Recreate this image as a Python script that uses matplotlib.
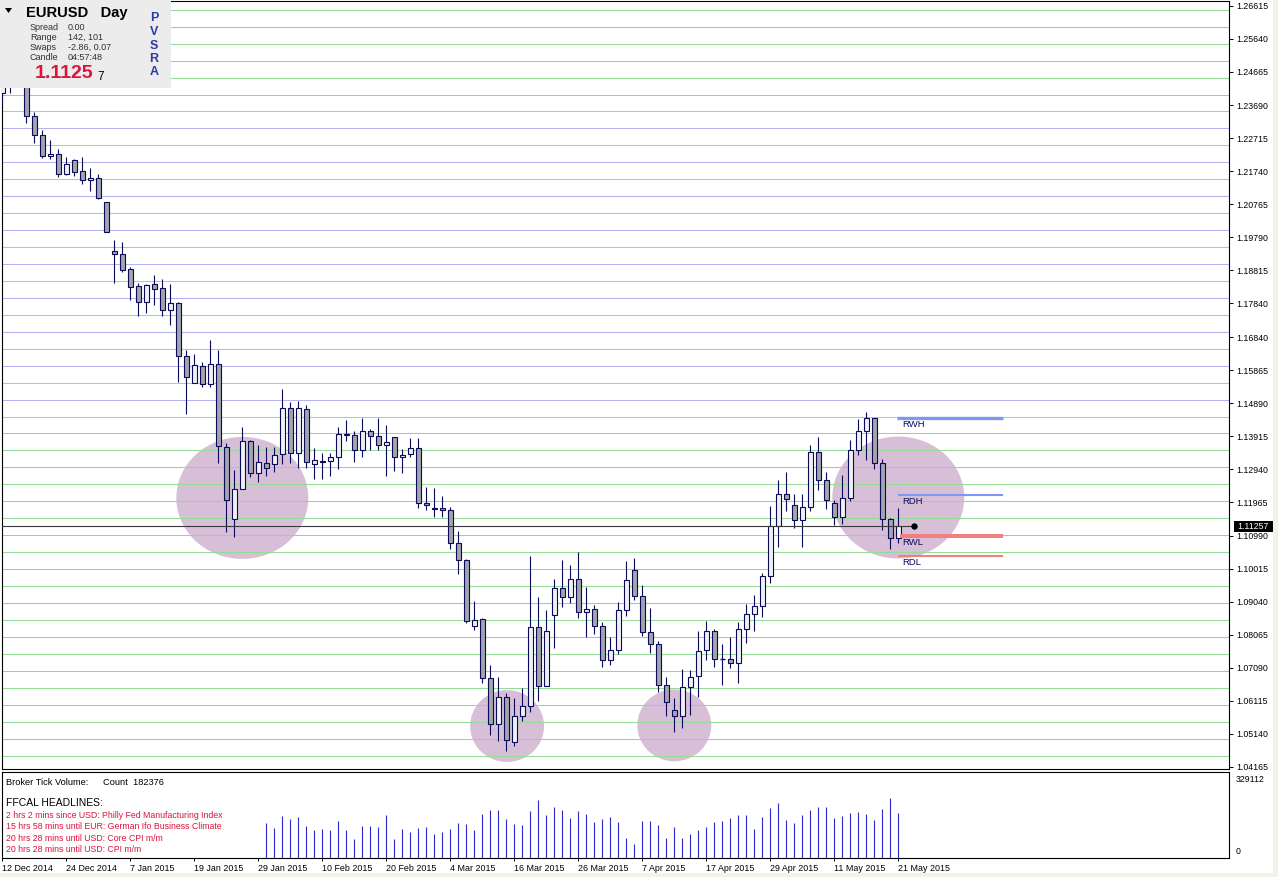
import numpy as np
import matplotlib
matplotlib.use("Agg")
import matplotlib.pyplot as plt
from matplotlib.patches import Rectangle, Ellipse, Polygon
from matplotlib import transforms

# -------------------------------
# Data (EURUSD daily)
# -------------------------------
symbol = "EURUSD"
timeframe = "Day"

date_labels = ["12 Dec 2014", "24 Dec 2014", "7 Jan 2015", "19 Jan 2015", "29 Jan 2015",
               "10 Feb 2015", "20 Feb 2015", "4 Mar 2015", "16 Mar 2015", "26 Mar 2015",
               "7 Apr 2015", "17 Apr 2015", "29 Apr 2015", "11 May 2015", "21 May 2015"]
label_every = 8  # bars between date labels

opens = [1.2403, 1.2465, 1.2438, 1.2506, 1.2337, 1.2280, 1.2218, 1.2224, 1.2166, 1.2206,
         1.2174, 1.2147, 1.2153, 1.2082, 1.1939, 1.1930, 1.1884, 1.1834, 1.1787, 1.1840,
         1.1828, 1.1765, 1.1784, 1.1628, 1.1548, 1.1598, 1.1545, 1.1604, 1.1361, 1.1147,
         1.1235, 1.1377, 1.1283, 1.1312, 1.1309, 1.1339, 1.1474, 1.1342, 1.1471, 1.1309,
         1.1320, 1.1319, 1.1332, 1.1398, 1.1395, 1.1350, 1.1407, 1.1392, 1.1365, 1.1389,
         1.1330, 1.1339, 1.1356, 1.1194, 1.1179, 1.1179, 1.1173, 1.1076, 1.1026, 1.0831,
         1.0852, 1.0678, 1.0542, 1.0622, 1.0489, 1.0566, 1.0595, 1.0828, 1.0654, 1.0864,
         1.0943, 1.0917, 1.0970, 1.0873, 1.0881, 1.0831, 1.0731, 1.0760, 1.0878, 1.0996,
         1.0920, 1.0814, 1.0778, 1.0657, 1.0583, 1.0566, 1.0651, 1.0684, 1.0760, 1.0817,
         1.0734, 1.0734, 1.0722, 1.0822, 1.0867, 1.0890, 1.0979, 1.1126, 1.1221, 1.1188,
         1.1144, 1.1182, 1.1345, 1.1262, 1.1194, 1.1153, 1.1209, 1.1350, 1.1407, 1.1445,
         1.1312, 1.1147, 1.1091]
highs = [1.2480, 1.2480, 1.2570, 1.2535, 1.2348, 1.2295, 1.2266, 1.2239, 1.2215, 1.2209,
         1.2215, 1.2182, 1.2165, 1.2082, 1.1971, 1.1965, 1.1892, 1.1843, 1.1841, 1.1868,
         1.1856, 1.1841, 1.1787, 1.1646, 1.1635, 1.1610, 1.1676, 1.1646, 1.1371, 1.1292,
         1.1418, 1.1381, 1.1366, 1.1359, 1.1359, 1.1530, 1.1494, 1.1496, 1.1483, 1.1357,
         1.1342, 1.1342, 1.1418, 1.1440, 1.1407, 1.1445, 1.1412, 1.1445, 1.1424, 1.1389,
         1.1353, 1.1386, 1.1386, 1.1243, 1.1238, 1.1215, 1.1182, 1.1112, 1.1029, 1.0905,
         1.0855, 1.0716, 1.0681, 1.0634, 1.0619, 1.0648, 1.1038, 1.0917, 1.0878, 1.0970,
         1.1026, 1.1011, 1.1050, 1.0946, 1.0893, 1.0843, 1.0799, 1.0902, 1.1023, 1.1032,
         1.0952, 1.0884, 1.0787, 1.0681, 1.0619, 1.0704, 1.0701, 1.0817, 1.0847, 1.0822,
         1.0778, 1.0799, 1.0843, 1.0896, 1.0923, 1.0988, 1.1185, 1.1262, 1.1286, 1.1221,
         1.1221, 1.1365, 1.1389, 1.1286, 1.1203, 1.1277, 1.1380, 1.1442, 1.1463, 1.1445,
         1.1324, 1.1150, 1.1179]
lows = [1.2376, 1.2405, 1.2425, 1.2315, 1.2258, 1.2214, 1.2210, 1.2158, 1.2163, 1.2161,
        1.2137, 1.2116, 1.2091, 1.1995, 1.1845, 1.1877, 1.1794, 1.1747, 1.1756, 1.1780,
        1.1747, 1.1721, 1.1553, 1.1457, 1.1548, 1.1536, 1.1536, 1.1312, 1.1110, 1.1094,
        1.1235, 1.1273, 1.1258, 1.1276, 1.1287, 1.1309, 1.1312, 1.1299, 1.1299, 1.1267,
        1.1267, 1.1276, 1.1296, 1.1377, 1.1315, 1.1330, 1.1350, 1.1350, 1.1276, 1.1290,
        1.1284, 1.1331, 1.1179, 1.1173, 1.1155, 1.1153, 1.1058, 1.0985, 1.0840, 1.0819,
        1.0665, 1.0510, 1.0492, 1.0463, 1.0477, 1.0551, 1.0578, 1.0610, 1.0654, 1.0766,
        1.0887, 1.0899, 1.0855, 1.0799, 1.0808, 1.0710, 1.0716, 1.0749, 1.0861, 1.0908,
        1.0802, 1.0752, 1.0637, 1.0566, 1.0519, 1.0530, 1.0569, 1.0622, 1.0731, 1.0710,
        1.0657, 1.0707, 1.0663, 1.0781, 1.0817, 1.0858, 1.0958, 1.1066, 1.1171, 1.1120,
        1.1064, 1.1171, 1.1232, 1.1176, 1.1129, 1.1132, 1.1200, 1.1336, 1.1321, 1.1294,
        1.1114, 1.1058, 1.1076]
closes = [1.2465, 1.2438, 1.2506, 1.2337, 1.2280, 1.2220, 1.2225, 1.2165, 1.2194, 1.2171,
          1.2147, 1.2153, 1.2094, 1.1995, 1.1929, 1.1883, 1.1833, 1.1787, 1.1837, 1.1827,
          1.1765, 1.1784, 1.1628, 1.1566, 1.1601, 1.1545, 1.1604, 1.1362, 1.1203, 1.1235,
          1.1377, 1.1283, 1.1315, 1.1297, 1.1336, 1.1474, 1.1342, 1.1474, 1.1315, 1.1321,
          1.1317, 1.1332, 1.1398, 1.1395, 1.1350, 1.1407, 1.1392, 1.1365, 1.1374, 1.1330,
          1.1336, 1.1356, 1.1194, 1.1188, 1.1176, 1.1173, 1.1076, 1.1026, 1.0846, 1.0849,
          1.0678, 1.0542, 1.0622, 1.0495, 1.0566, 1.0595, 1.0828, 1.0654, 1.0817, 1.0943,
          1.0917, 1.0970, 1.0873, 1.0881, 1.0831, 1.0731, 1.0760, 1.0878, 1.0967, 1.0920,
          1.0814, 1.0778, 1.0657, 1.0607, 1.0566, 1.0651, 1.0681, 1.0758, 1.0817, 1.0734,
          1.0734, 1.0722, 1.0822, 1.0867, 1.0890, 1.0979, 1.1126, 1.1221, 1.1206, 1.1144,
          1.1182, 1.1345, 1.1262, 1.1203, 1.1153, 1.1209, 1.1350, 1.1407, 1.1445, 1.1312,
          1.1147, 1.1091, 1.11257]

# tick volume is shown from bar 33 (30 Jan 2015) onwards
vol_start = 33
volumes = [142300, 121000, 168900, 156900, 164900, 129000, 113100, 117000, 113100, 149000,
           113100, 77100, 129000, 129000, 125000, 172900, 77100, 117000, 105100, 121000,
           125000, 97100, 105100, 117000, 141000, 137000, 113100, 176900, 192900, 192900,
           156900, 137000, 133000, 188900, 232800, 172900, 204800, 192900, 160900, 188900,
           176900, 145000, 156900, 164900, 145000, 81100, 57200, 149000, 149000, 133000,
           81100, 125000, 81100, 97100, 113100, 125000, 145000, 149000, 160900, 172900,
           172900, 117000, 164900, 200800, 220800, 153000, 141000, 172900, 192900, 204800,
           204800, 160900, 168900, 180900, 184900, 176900, 153000, 196800, 240700, 182376]
vol_max_label = 329112

bid = 1.11257
price_labels = [1.26615, 1.25640, 1.24665, 1.23690, 1.22715, 1.21740, 1.20765, 1.19790,
                1.18815, 1.17840, 1.16840, 1.15865, 1.14890, 1.13915, 1.12940, 1.11965,
                1.10990, 1.10015, 1.09040, 1.08065, 1.07090, 1.06115, 1.05140, 1.04165]

level_names = ["RWH", "RDH", "RWL", "RDL"]
level_prices = [1.14466, 1.12185, 1.10976, 1.10395]

info_keys = ["Spread", "Range", "Swaps", "Candle"]
info_vals = ["0.00", "142, 101", "-2.86, 0.07", "04:57:48"]

headlines = ["2 hrs 2 mins since USD: Philly Fed Manufacturing Index",
             "15 hrs 58 mins until EUR: German Ifo Business Climate",
             "20 hrs 28 mins until USD: Core CPI m/m",
             "20 hrs 28 mins until USD: CPI m/m"]

# highlighted zones: (bar, price, width in bars, height in price)
zones = [(30.0, 1.1210, 16.5, 0.0360), (63.1, 1.0537, 9.25, 0.0212),
         (84.0, 1.0539, 9.25, 0.0212), (112.0, 1.1211, 16.5, 0.0360)]

# -------------------------------
# Style
# -------------------------------
W, H = 1278, 877
NAVY = "#0a0a5a"
UP_FILL = "#f0f0f4"
DOWN_FILL = "#a4a4aa"
GRID_BLUE = "#b4b4f4"
GRID_GREEN = "#96dc96"
ZONE = "#d8bfd8"
VOL_BLUE = "#2a2acc"
RED_TXT = "#dc143c"

plt.rcParams["font.family"] = ["Liberation Sans", "DejaVu Sans"]

fig = plt.figure(figsize=(W / 100, H / 100), dpi=100)
fig.patch.set_facecolor("white")


def frect(x0, y0, x1, y1):
    # pixel box (top-left origin) -> figure fraction rect
    return [x0 / W, 1 - y1 / H, (x1 - x0) / W, (y1 - y0) / H]


def ftext(x, y, s, **kw):
    kw.setdefault("va", "center")
    kw.setdefault("ha", "left")
    return fig.text(x / W, 1 - y / H, s, **kw)


# bar i sits at pixel 2.3 + 8*i ; 3390 px per price unit
xlim = ((1.5 - 2.3) / 8, (1229 - 2.3) / 8)

# -------------------------------
# Main price panel
# -------------------------------
ax = fig.add_axes(frect(1.5, 1, 1229, 769))
ax.set_xlim(*xlim)
ax.set_ylim(1.26788 - 0.000295 * 769, 1.26788 - 0.000295 * 1)

for lev in np.arange(1.040, 1.2701, 0.005):
    col = GRID_BLUE if round(lev * 200) % 2 == 0 else GRID_GREEN
    ax.axhline(lev, color=col, lw=0.75, zorder=1)

for bx, py, bw_, ph in zones:
    ax.add_patch(Ellipse((bx, py), bw_, ph, facecolor=ZONE, edgecolor="none", zorder=0.5))

o, hi, lo, c = map(np.array, (opens, highs, lows, closes))
x = np.arange(len(o))
ax.vlines(x, lo, hi, color=NAVY, lw=0.8, zorder=3)
bw = 0.56
for i in x:
    b0, b1 = min(o[i], c[i]), max(o[i], c[i])
    if b1 - b0 < 0.00005:
        ax.hlines(o[i], i - bw / 2, i + bw / 2, color=NAVY, lw=1.0, zorder=4)
    else:
        ax.add_patch(Rectangle((i - bw / 2, b0), bw, b1 - b0,
                               facecolor=UP_FILL if c[i] >= o[i] else DOWN_FILL,
                               edgecolor=NAVY, lw=0.8, zorder=4))

# bid line with marker
ax.plot([xlim[0], 114], [bid, bid], color="#3a3a3a", lw=0.8, zorder=5)
ax.plot([114], [bid], "o", color="black", ms=3.6, zorder=6)

# reference levels
lev_start = [111.8, 111.9, 112.2, 111.9]
lev_width = [2.4, 1.5, 2.9, 1.5]
lev_color = ["#8096f0", "#8096f0", "#f08080", "#f08080"]
below = transforms.offset_copy(ax.transData, fig=fig, x=0, y=-6.6 * 0.72, units="points")
for name, p, s0, lw_, col in zip(level_names, level_prices, lev_start, lev_width, lev_color):
    ax.plot([s0, 125.1], [p, p], color=col, lw=lw_, solid_capstyle="butt", zorder=5)
    ax.text(112.5, p, name, transform=below, fontsize=6.8, color=NAVY,
            va="center", ha="left", zorder=6)

ax.set_xticks([])
ax.yaxis.tick_right()
ax.set_yticks(price_labels)
ax.set_yticklabels([f"{v:.5f}" for v in price_labels])
ax.tick_params(axis="y", length=2.9, width=0.7, pad=2.2, labelsize=6.3, colors="black")
for sp in ax.spines.values():
    sp.set_color("black")
    sp.set_linewidth(0.8)

# -------------------------------
# Volume panel
# -------------------------------
axv = fig.add_axes(frect(1.5, 772, 1229, 858.3))
axv.set_xlim(*xlim)
axv.set_ylim(0, 86.3 * 3990)
vx = np.arange(vol_start, vol_start + len(volumes))
axv.vlines(vx, 0, volumes, color=VOL_BLUE, lw=0.8)
axv.set_yticks([])
tick_pos = np.arange(0, len(date_labels) * label_every, label_every)
axv.set_xticks(tick_pos - 0.04)
axv.set_xticklabels(date_labels, ha="left", fontsize=6.4)
axv.tick_params(axis="x", length=2.4, width=0.7, pad=2.0)
for sp in axv.spines.values():
    sp.set_color("black")
    sp.set_linewidth(0.8)

ftext(1236, 780, f"{vol_max_label}", fontsize=6.3)
ftext(1236, 851, "0", fontsize=6.3)
ftext(6, 782.3, "Broker Tick Volume:", fontsize=6.7)
ftext(103, 782.3, f"Count  {volumes[-1]}", fontsize=6.7)
ftext(6, 803.3, "FFCAL HEADLINES:", fontsize=7.5)
for yy, line in zip([815, 826.7, 838.3, 849.3], headlines):
    ftext(6, yy, line, fontsize=6.3, color=RED_TXT)

# bid price box on the axis
fig.add_artist(Rectangle(frect(1234, 521, 1274, 532)[:2], 40 / W, 11 / H,
                         transform=fig.transFigure, facecolor="black", edgecolor="none"))
ftext(1237, 526.7, f"{bid:.5f}", fontsize=6.3, color="white")

# window edges
fig.add_artist(Rectangle((1273 / W, 0), 5 / W, 1, transform=fig.transFigure,
                         facecolor="#f2f2e6", edgecolor="none"))
fig.add_artist(Rectangle((0, 0), 1, 4 / H, transform=fig.transFigure,
                         facecolor="#f2f2e6", edgecolor="none"))

# -------------------------------
# Info box (top-left)
# -------------------------------
fig.add_artist(Rectangle(frect(0, 0, 171, 88)[:2], 171 / W, 88 / H,
                         transform=fig.transFigure, facecolor="#ececec", edgecolor="none"))
tri = [(5, 8), (12, 8), (8.5, 13)]
fig.add_artist(Polygon([(px / W, 1 - py / H) for px, py in tri], closed=True,
                       transform=fig.transFigure, facecolor="black", edgecolor="none"))
ftext(26, 13.3, f"{symbol}   {timeframe}", fontsize=10.6, fontweight="bold")
for k, (key, val) in enumerate(zip(info_keys, info_vals)):
    ftext(30, 27.7 + 10 * k, key, fontsize=6.5, color="#303030")
    ftext(68, 27.7 + 10 * k, val, fontsize=6.5, color="#303030")
bid_txt = f"{bid:.5f}"
ftext(35, 73.5, bid_txt[:-1], fontsize=14, fontweight="bold", color=RED_TXT)
ftext(97, 76.5, bid_txt[-1], fontsize=8.4)
for k, ch in enumerate("PVSRA"):
    ftext(154, [18.3, 31.7, 45.7, 59.3, 71.7][k], ch, fontsize=9, fontweight="bold",
          color="#2a3aa8", ha="center")

fig.savefig("out.png", dpi=100)
